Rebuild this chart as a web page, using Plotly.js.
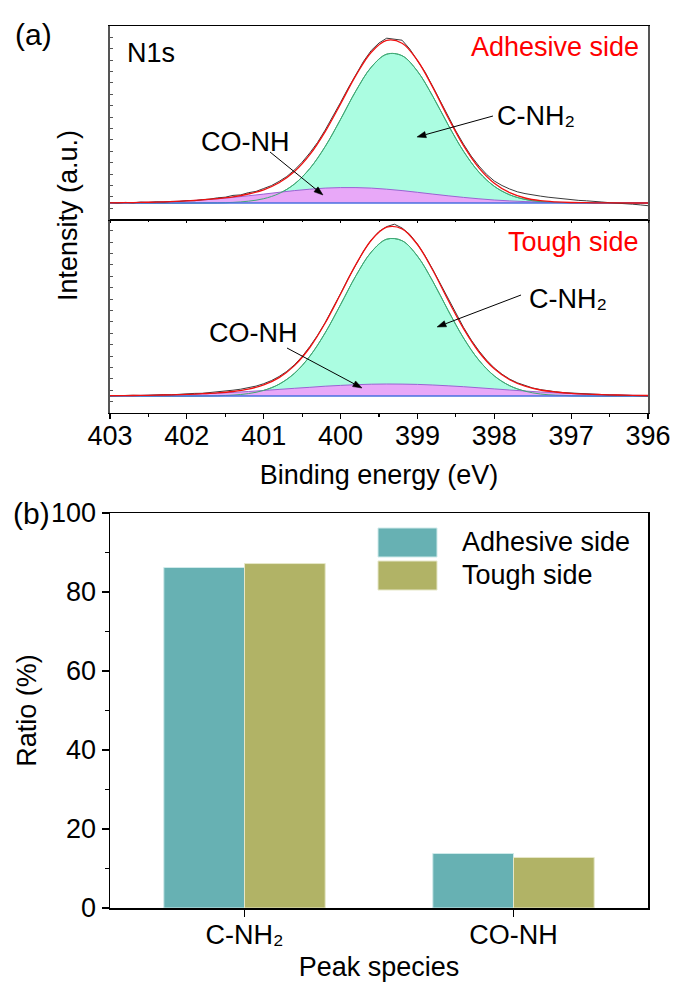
<!DOCTYPE html>
<html>
<head>
<meta charset="utf-8">
<script src="https://cdn.plot.ly/plotly-3.0.1.min.js"></script>
<style>
  html, body { margin: 0; padding: 0; background: #fff; }
  #chart { width: 673px; height: 990px; }
</style>
</head>
<body>
<div id="chart"></div>
<script>
// ---- N1s spectra: binding energy grids (eV) ----
const energy = [403.0, 402.8, 402.6, 402.4, 402.2, 402.0, 401.8, 401.6, 401.4, 401.2,
  401.0, 400.8, 400.6, 400.4, 400.2, 400.0, 399.8, 399.6, 399.4, 399.2,
  399.0, 398.8, 398.6, 398.4, 398.2, 398.0, 397.8, 397.6, 397.4, 397.2,
  397.0, 396.8, 396.6, 396.4, 396.2, 396.0];
const energyRaw = [403.0, 402.9, 402.8, 402.7, 402.6, 402.5, 402.4, 402.3, 402.2, 402.1,
  402.0, 401.9, 401.8, 401.7, 401.6, 401.5, 401.4, 401.3, 401.2, 401.1,
  401.0, 400.9, 400.8, 400.7, 400.6, 400.5, 400.4, 400.3, 400.2, 400.1,
  400.0, 399.9, 399.8, 399.7, 399.6, 399.5, 399.4, 399.3, 399.2, 399.1,
  399.0, 398.9, 398.8, 398.7, 398.6, 398.5, 398.4, 398.3, 398.2, 398.1,
  398.0, 397.9, 397.8, 397.7, 397.6, 397.5, 397.4, 397.3, 397.2, 397.1,
  397.0, 396.9, 396.8, 396.7, 396.6, 396.5, 396.4, 396.3, 396.2, 396.1, 396.0];
const baselineEnergy = [403.0, 396.0];

// ---- Adhesive side (a.u., background subtracted) ----
const adhesiveRaw = [0.5, 0.0, 0.6, 0.2, 0.9, 0.5, 1.2, 0.9, 1.6, 1.5,
  2.4, 2.2, 3.4, 3.9, 5.2, 5.8, 7.6, 8.1, 10.3, 11.6,
  14.5, 17.4, 21.6, 26.5, 33.0, 40.8, 50.1, 60.5, 73.0, 86.2,
  100.6, 115.0, 129.0, 141.8, 152.6, 160.0, 164.8, 163.5, 162.8, 154.0,
  143.0, 130.8, 116.4, 101.5, 86.5, 72.0, 58.8, 46.9, 37.0, 28.6,
  22.0, 17.5, 14.0, 11.2, 9.4, 7.8, 6.9, 5.8, 4.9, 4.0,
  3.3, 2.6, 2.2, 1.3, 1.0, 0.3, 0.0, -0.8, -1.2, -1.9, -2.7];
const adhesiveFit = [0.2, 0.3, 0.6, 0.9, 1.4, 2.1, 3.1, 4.4, 6.2, 9.0,
  13.2, 20.2, 31.4, 48.3, 71.4, 99.1, 127.6, 150.8, 162.6, 159.7,
  142.5, 115.6, 85.3, 57.3, 35.1, 19.7, 10.3, 5.0, 2.3, 1.1,
  0.5, 0.3, 0.1, 0.1, 0.0, 0.0];
const adhesiveCNH2 = [0, 0, 0, 0, 0, 0.0, 0.1, 0.2, 0.6, 1.8,
  4.3, 9.5, 19.0, 34.5, 56.5, 83.7, 112.2, 135.9, 148.8, 147.3,
  131.8, 106.7, 78.1, 51.7, 30.9, 16.7, 8.2, 3.6, 1.4, 0.5,
  0.2, 0.1, 0, 0, 0, 0];
const adhesiveCONH = [0.2, 0.3, 0.6, 0.9, 1.4, 2.1, 3.0, 4.2, 5.6, 7.2,
  8.9, 10.7, 12.4, 13.8, 14.9, 15.4, 15.4, 14.9, 13.8, 12.4,
  10.7, 8.9, 7.2, 5.6, 4.2, 3.0, 2.1, 1.4, 0.9, 0.6,
  0.3, 0.2, 0.1, 0.1, 0.0, 0.0];
const adhesiveBaseline = [0, 0];

// ---- Tough side (a.u., background subtracted) ----
const toughRaw = [0.2, 0.5, 0.3, 0.7, 0.5, 1.0, 0.9, 1.3, 1.2, 1.8,
  2.0, 2.6, 2.7, 3.4, 3.9, 4.6, 5.8, 6.8, 8.0, 9.9,
  12.3, 15.4, 19.5, 24.6, 31.2, 39.4, 49.5, 60.6, 73.4, 87.6,
  102.4, 117.6, 132.0, 145.0, 156.2, 164.5, 169.4, 171.8, 168.0, 161.6,
  152.0, 140.2, 126.5, 112.0, 97.0, 82.4, 68.6, 56.0, 45.2, 35.8,
  28.0, 21.8, 16.9, 13.2, 10.3, 8.0, 6.4, 5.1, 4.2, 3.4,
  2.9, 2.3, 2.0, 1.6, 1.4, 1.0, 0.9, 0.6, 0.5, 0.2, 0.1];
const toughFit = [0.3, 0.4, 0.6, 0.8, 1.2, 1.6, 2.3, 3.1, 4.5, 6.9,
  11.1, 18.4, 30.4, 48.5, 73.0, 102.0, 131.6, 155.8, 168.8, 167.2,
  151.5, 125.7, 95.7, 67.3, 44.0, 27.2, 16.3, 9.8, 6.0, 4.0,
  2.7, 1.9, 1.4, 1.0, 0.7, 0.5];
const toughCNH2 = [0, 0, 0, 0, 0, 0.0, 0.1, 0.3, 0.9, 2.4,
  5.6, 11.8, 22.7, 39.8, 63.2, 91.4, 120.3, 144.0, 156.8, 155.3,
  139.9, 114.7, 85.5, 58.0, 35.8, 20.1, 10.3, 4.8, 2.0, 0.8,
  0.3, 0.1, 0.0, 0, 0, 0];
const toughCONH = [0.3, 0.4, 0.6, 0.8, 1.2, 1.6, 2.1, 2.8, 3.6, 4.5,
  5.5, 6.6, 7.7, 8.7, 9.8, 10.6, 11.3, 11.8, 12.0, 11.9,
  11.6, 11.0, 10.2, 9.3, 8.2, 7.1, 6.0, 5.0, 4.0, 3.2,
  2.5, 1.9, 1.4, 1.0, 0.7, 0.5];
const toughBaseline = [0, 0];

// ---- Peak ratios (%) ----
const species = ['C-NH\u2082', 'CO-NH'];
const ratioAdhesive = [86.2, 13.8];
const ratioTough = [87.2, 12.8];

// ---- styling ----
const FONT = 'Liberation Sans, Arial, Helvetica, sans-serif';
const FS = 27;
const C_GREEN_FILL = '#abfde1';
const C_GREEN_LINE = '#3fa874';
const C_PURPLE_FILL = '#e8a8f8';
const C_PURPLE_LINE = '#9a63d2';
const C_RED = '#f01010';
const C_RAW = '#3a3a3a';
const C_BASE = '#4a6fe0';
const C_ADH = '#67b1b3';
const C_TOUGH = '#b1b366';

const W = 673, H = 990;
const px = v => v / W;           // horizontal pixel -> paper
const py = v => 1 - v / H;       // vertical pixel -> paper

// plot frame of the spectra (pixels) and the energy window
const X0 = 110, X1 = 648, E_HI = 403, E_LO = 396;
const eToPx = e => X0 + (E_HI - e) * (X1 - X0) / (E_HI - E_LO);
const pxToE = p => E_HI - (p - X0) * (E_HI - E_LO) / (X1 - X0);

function spectrumTraces(raw, fit, cnh2, conh, base, xa, ya) {
  return [
    { x: energy, y: cnh2, xaxis: xa, yaxis: ya, type: 'scatter', mode: 'lines',
      line: { color: C_GREEN_LINE, width: 1, shape: 'spline' },
      fill: 'tozeroy', fillcolor: C_GREEN_FILL, name: 'C-NH2' },
    { x: energy, y: conh, xaxis: xa, yaxis: ya, type: 'scatter', mode: 'lines',
      line: { color: C_PURPLE_LINE, width: 1, shape: 'spline' },
      fill: 'tozeroy', fillcolor: C_PURPLE_FILL, name: 'CO-NH' },
    { x: energy, y: cnh2, xaxis: xa, yaxis: ya, type: 'scatter', mode: 'lines',
      line: { color: C_GREEN_LINE, width: 1, shape: 'spline' }, name: 'C-NH2 line' },
    { x: baselineEnergy, y: base, xaxis: xa, yaxis: ya, type: 'scatter', mode: 'lines',
      line: { color: C_BASE, width: 1.3 }, name: 'Background' },
    { x: energyRaw, y: raw, xaxis: xa, yaxis: ya, type: 'scatter', mode: 'lines',
      line: { color: C_RAW, width: 1 }, name: 'Raw' },
    { x: energy, y: fit, xaxis: xa, yaxis: ya, type: 'scatter', mode: 'lines',
      line: { color: C_RED, width: 1.3, shape: 'spline' }, name: 'Fit' }
  ];
}

const data = [].concat(
  spectrumTraces(adhesiveRaw, adhesiveFit, adhesiveCNH2, adhesiveCONH, adhesiveBaseline, 'x2', 'y'),
  spectrumTraces(toughRaw, toughFit, toughCNH2, toughCONH, toughBaseline, 'x', 'y2'),
  [
    { x: species, y: ratioAdhesive, xaxis: 'x3', yaxis: 'y3', type: 'bar', name: 'Adhesive side',
      marker: { color: C_ADH, line: { color: '#cfeaea', width: 1 } } },
    { x: species, y: ratioTough, xaxis: 'x3', yaxis: 'y3', type: 'bar', name: 'Tough side',
      marker: { color: C_TOUGH, line: { color: '#e6e7c8', width: 1 } } }
  ]
);

// pointer arrow (line + filled head) from a label towards a peak, in data units of one panel.
// The intensity axes are scaled 1 unit per pixel, so head geometry can be built in pixels.
function pointer(tail, tip, xref, yref) {
  const tx = eToPx(tail[0]), ty = -tail[1];
  const hx = eToPx(tip[0]), hy = -tip[1];
  const dx = hx - tx, dy = hy - ty, len = Math.hypot(dx, dy);
  const ux = dx / len, uy = dy / len;
  const L = 9, Wd = 3.2;
  const bx = hx - ux * L, by = hy - uy * L;
  const p1 = [bx - uy * Wd, by + ux * Wd], p2 = [bx + uy * Wd, by - ux * Wd];
  const toData = p => [pxToE(p[0]), -p[1]];
  const a = toData(p1), b = toData(p2), base = toData([bx, by]);
  return [
    { type: 'line', xref: xref, yref: yref, x0: tail[0], y0: tail[1], x1: base[0], y1: base[1],
      line: { color: '#000', width: 1 } },
    { type: 'path', xref: xref, yref: yref,
      path: 'M' + tip[0] + ',' + tip[1] + ' L' + a[0] + ',' + a[1] + ' L' + b[0] + ',' + b[1] + ' Z',
      fillcolor: '#000', line: { color: '#000', width: 0.5 } }
  ];
}

const xDom = [px(X0), px(X1)];
const specY = {
  showticklabels: false, ticks: 'inside', ticklen: 3, tickwidth: 1, tickcolor: '#555',
  dtick: 11.4, showline: true, linecolor: '#555', linewidth: 2, mirror: true,
  showgrid: false, zeroline: false, fixedrange: true
};

function label(text, x, y, opts) {
  return Object.assign({ text: text, x: px(x), y: py(y), xref: 'paper', yref: 'paper',
    showarrow: false, xanchor: 'center', yanchor: 'middle',
    font: { family: FONT, size: FS, color: '#000' } }, opts || {});
}

const layout = {
  width: W, height: H,
  margin: { l: 0, r: 0, t: 0, b: 0 },
  paper_bgcolor: '#fff', plot_bgcolor: 'rgba(0,0,0,0)',
  showlegend: false,
  font: { family: FONT, size: FS, color: '#000' },
  // lower spectrum panel carries the energy axis
  xaxis: {
    domain: xDom, anchor: 'y2', range: [E_HI, E_LO], tick0: 396, dtick: 1,
    ticks: 'outside', ticklen: 5, tickwidth: 1.2, tickcolor: '#000',
    minor: { dtick: 0.5, ticks: 'outside', ticklen: 3, tickcolor: '#000' },
    showline: true, linecolor: '#000', linewidth: 1.5, mirror: true,
    showgrid: false, zeroline: false, tickfont: { size: FS }, ticklabelstandoff: -6,
    title: { text: 'Binding energy (eV)', font: { size: FS }, standoff: 14 }
  },
  xaxis2: {
    domain: xDom, anchor: 'y', matches: 'x', range: [E_HI, E_LO], showticklabels: false,
    ticks: 'outside', ticklen: 2, tickcolor: '#000', dtick: 1,
    minor: { dtick: 0.5, ticks: 'outside', ticklen: 1, tickcolor: '#000' },
    showline: true, linecolor: '#000', linewidth: 1.5, mirror: true,
    showgrid: false, zeroline: false
  },
  yaxis: Object.assign({ domain: [py(219.5), py(26)], anchor: 'x2', range: [-16.5, 177], tick0: -5.3 }, specY),
  yaxis2: Object.assign({ domain: [py(412.5), py(220)], anchor: 'x', range: [-16.5, 176], tick0: -5.7 }, specY),
  // ratio bar chart
  xaxis3: {
    domain: xDom, anchor: 'y3', type: 'category', range: [-0.5, 1.5],
    ticks: 'outside', ticklen: 7, tickwidth: 1.2, tickcolor: '#000',
    showline: true, linecolor: '#000', linewidth: 1.5, mirror: true,
    showgrid: false, zeroline: false, tickfont: { size: FS }, ticklabelstandoff: -5,
    title: { text: 'Peak species', font: { size: FS }, standoff: 8 }
  },
  yaxis3: {
    domain: [py(908), py(513)], anchor: 'x3', range: [0, 100], dtick: 20,
    ticks: 'outside', ticklen: 7, tickwidth: 1.2, tickcolor: '#000',
    minor: { dtick: 10, ticks: 'outside', ticklen: 4, tickcolor: '#000' },
    showline: true, linecolor: '#000', linewidth: 1.5, mirror: true,
    showgrid: false, zeroline: false, tickfont: { size: FS },
    title: { text: 'Ratio (%)', font: { size: FS }, standoff: 6 }
  },
  barmode: 'group', bargap: 0.4, bargroupgap: 0,
  shapes: [].concat(
    pointer([398.017, 87], [399.006, 66], 'x2', 'y'),
    pointer([400.918, 51], [400.229, 8], 'x2', 'y'),
    pointer([397.652, 101], [398.745, 69], 'x', 'y2'),
    pointer([400.697, 48], [399.721, 8], 'x', 'y2'),
    [
      { type: 'rect', xref: 'paper', yref: 'paper', x0: px(378), x1: px(437), y0: py(557), y1: py(528),
        fillcolor: C_ADH, line: { color: '#cfeaea', width: 1 } },
      { type: 'rect', xref: 'paper', yref: 'paper', x0: px(378), x1: px(437), y0: py(590), y1: py(561),
        fillcolor: C_TOUGH, line: { color: '#e6e7c8', width: 1 } }
    ]
  ),
  annotations: [
    label('(a)', 33, 34, { font: { family: FONT, size: 30, color: '#000' } }),
    label('(b)', 31, 513, { font: { family: FONT, size: 30, color: '#000' } }),
    label('Intensity (a.u.)', 68, 216, { textangle: -90 }),
    label('N1s', 125, 53, { xanchor: 'left' }),
    label('Adhesive side', 641, 47, { xanchor: 'right', font: { family: FONT, size: FS, color: '#ff0000' } }),
    label('Tough side', 641, 242, { xanchor: 'right', font: { family: FONT, size: FS, color: '#ff0000' } }),
    label('CO-NH', 246, 142),
    label('C-NH\u2082', 495, 116, { xanchor: 'left' }),
    label('CO-NH', 253, 333),
    label('C-NH\u2082', 527, 299, { xanchor: 'left' }),
    label('Adhesive side', 460, 542, { xanchor: 'left' }),
    label('Tough side', 460, 575, { xanchor: 'left' })
  ]
};

Plotly.newPlot('chart', data, layout, { staticPlot: true, displayModeBar: false });
</script>
</body>
</html>
